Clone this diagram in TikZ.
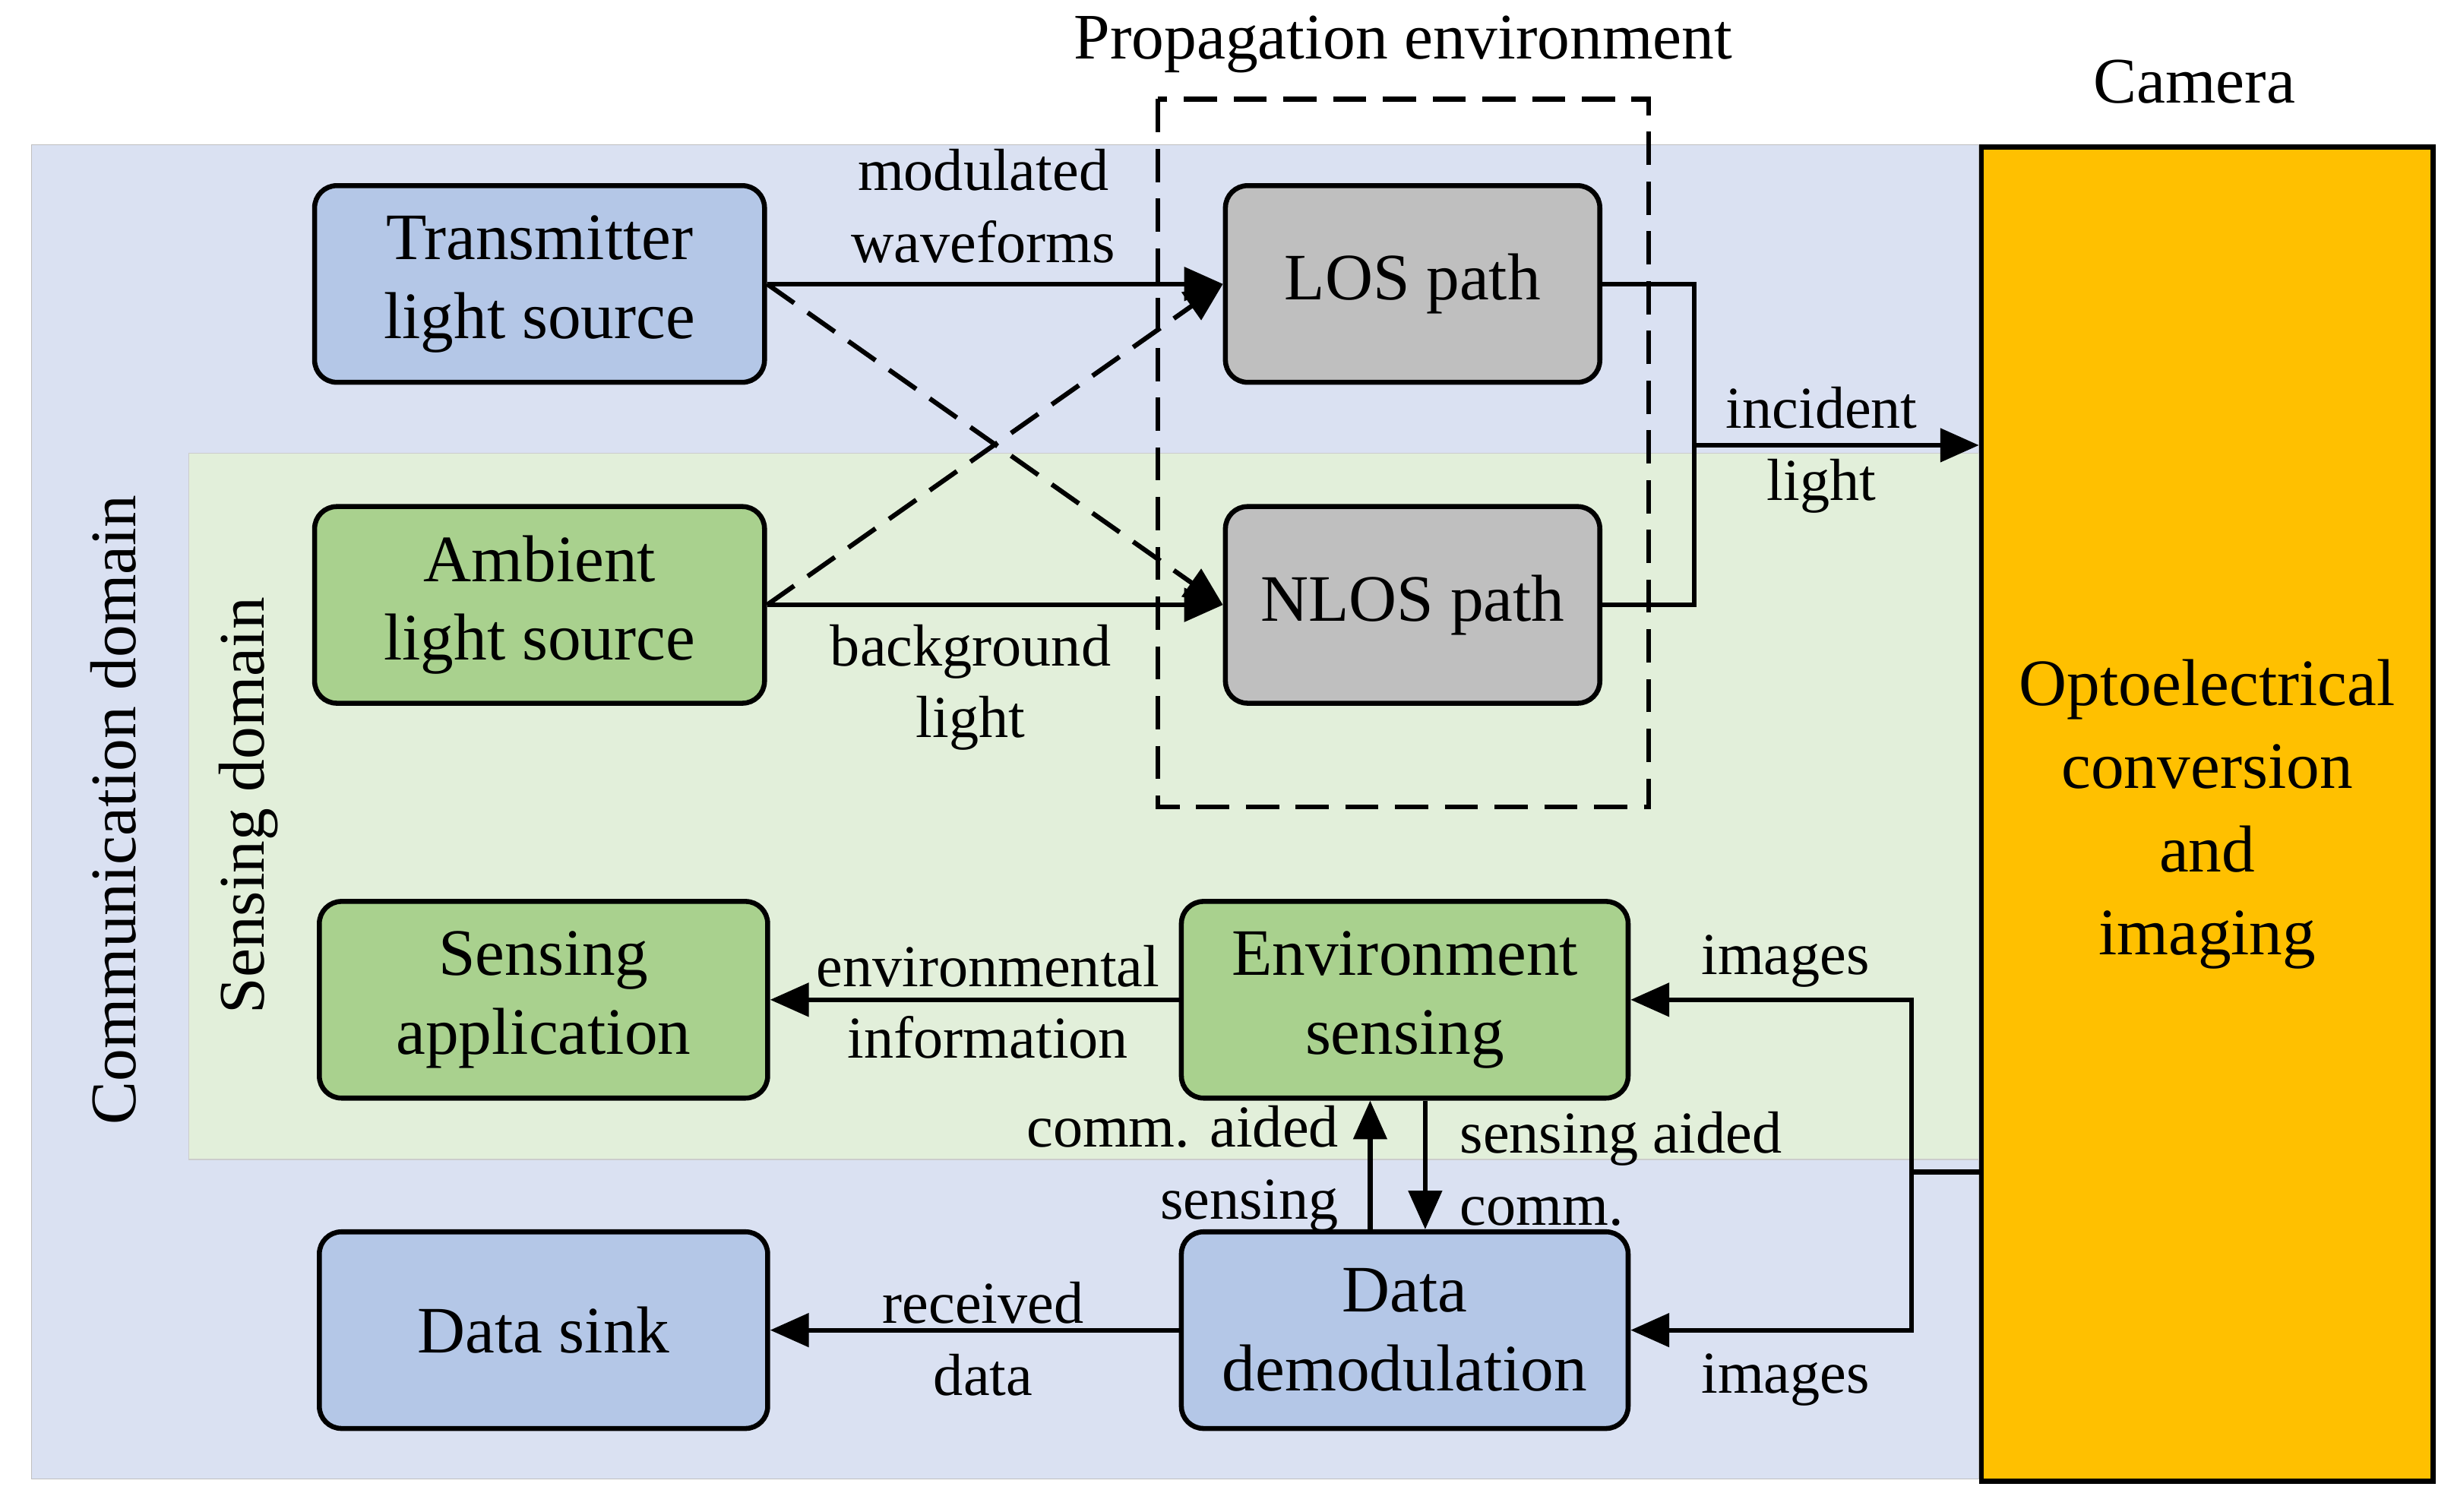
\documentclass[tikz,border=0pt]{standalone}
\usepackage{fontspec}
\setmainfont{Liberation Serif}
\usetikzlibrary{arrows.meta}
\begin{document}
\begin{tikzpicture}[x=0.02cm,y=-0.02cm,
 box/.style={draw,line width=1.8pt,rounded corners=8pt,align=center,font=\fontsize{24}{28.5}\selectfont,inner sep=0pt},
 lab/.style={align=center,font=\fontsize{21.5}{26}\selectfont,inner sep=1pt},
 ttl/.style={font=\fontsize{23.5}{28}\selectfont},
 ar/.style={line width=1.7pt,-{Triangle[length=14pt,width=12pt]}},
 ln/.style={line width=1.7pt}]
\definecolor{cdom}{HTML}{DAE1F2}\definecolor{sdom}{HTML}{E2EFDA}
\definecolor{bl}{HTML}{B4C7E7}\definecolor{gr}{HTML}{A9D18E}\definecolor{gy}{HTML}{BFBFBF}
\definecolor{cam}{HTML}{FFC000}
\useasboundingbox (0,0) rectangle (1560,961);
\fill[cdom,draw=gray!50] (20,92) rectangle (1258,940);
\fill[sdom,draw=gray!40] (120,288) rectangle (1258,737);
\node[draw,line width=1.8pt,fill=cam,minimum width=287*0.02cm,minimum height=848*0.02cm,anchor=north west,align=center,font=\fontsize{24}{30}\selectfont,inner sep=0pt] (cam) at (1258,92) {Optoelectrical\\conversion\\and\\imaging};
\draw[dashed,line width=1.7pt,dash pattern=on 12pt off 6pt] (736,63) rectangle (1048,513);
\node[ttl] (pe) at (892,28) {Propagation environment};
\node[ttl] (ct) at (1395,52) {Camera};
\node[rotate=90,ttl] (cd) at (72,515) {Communication domain};
\node[rotate=90,ttl] (sd) at (158,512) {Sensing domain};
\newcommand{\bx}[6]{\node[box,fill=#6,minimum width={(#4-#2)*0.02cm},minimum height={(#5-#3)*0.02cm}] (#1) at ({(#2+#4)/2},{(#3+#5)/2}) }
\bx{tx}{200}{118}{486}{243}{bl}{Transmitter\\light source};
\bx{amb}{200}{322}{486}{447}{gr}{Ambient\\light source};
\bx{los}{779}{118}{1017}{243}{gy}{LOS path};
\bx{nlos}{779}{322}{1017}{447}{gy}{NLOS path};
\bx{sapp}{203}{573}{488}{698}{gr}{Sensing\\application};
\bx{env}{751}{573}{1035}{698}{gr}{Environment\\sensing};
\bx{sink}{203}{783}{488}{908}{bl}{Data sink};
\bx{dem}{751}{783}{1035}{908}{bl}{Data\\demodulation};
\draw[ar] (tx.east) -- (los.west);
\draw[ar,dashed,dash pattern=on 12pt off 6pt] (tx.east) -- (nlos.west);
\draw[ar,dashed,dash pattern=on 12pt off 6pt] (amb.east) -- (los.west);
\draw[ar] (amb.east) -- (nlos.west);
\node[lab] (l1) at (625,131) {modulated\\waveforms};
\node[lab] (l2) at (617,437) {background\\light};
\coordinate (j) at (1077,283);
\draw[ln] (los.east) -| (j) |- (nlos.east);
\draw[ar] (j) -- (1258,283) coordinate (ci);
\node[lab] (l3) at (1158,286) {incident\\light};
\coordinate (c1) at (1258,745);
\coordinate (v) at (1215,745);
\draw[ln] (c1) -- (v);
\draw[ar] (v) |- (env.east);
\draw[ar] (v) |- (dem.east);
\node[lab] (l4) at (1135,611) {images};
\node[lab] (l5) at (1135,877) {images};
\draw[ar] (env.west) -- (sapp.east);
\node[lab] (l6) at (628,637) {environmental\\information};
\draw[ar] (dem.west) -- (sink.east);
\node[lab] (l7) at (625,851) {received\\data};
\draw[ar] (dem.north -| 871,0) -- (env.south -| 871,0);
\draw[ar] (env.south -| 906,0) -- (dem.north -| 906,0);
\node[lab,align=right,anchor=east] (l8) at (853,743) {comm. aided\\sensing};
\node[lab,align=left,anchor=west] (l9) at (926,743) {sensing aided\\comm.};
\end{tikzpicture}
\end{document}
